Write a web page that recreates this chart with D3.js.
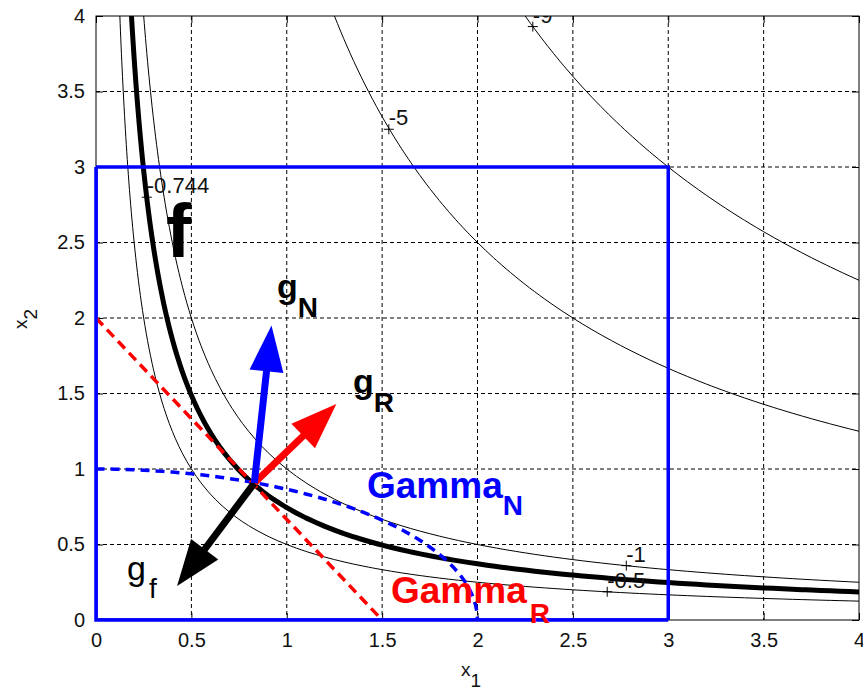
<!DOCTYPE html>
<html lang="en">
<head>
<meta charset="UTF-8">
<title>Contours of f with constraints Gamma_N and Gamma_R</title>
<script src="https://d3js.org/d3.v7.min.js"></script>
<style>
    body { margin: 0; background: #fff; }
    svg { display: block; font-family: "Liberation Sans", Arial, sans-serif; }
    .grid line { stroke: #000; stroke-width: 1; stroke-dasharray: 4,3; }
    .axis text { font-size: 20px; fill: #111; }
    .axis line { stroke: #000; }
    .axis path { display: none; }
    .contour { fill: none; stroke: #000; stroke-linejoin: round; }
    .clabel { font-size: 22px; fill: #111; }
</style>
</head>
<body>
<svg id="chart" width="863" height="691"></svg>
<script>
// axis ticks
const xTicks = [0, 0.5, 1, 1.5, 2, 2.5, 3, 3.5, 4];
const xTickLabels = ["0", "0.5", "1", "1.5", "2", "2.5", "3", "3.5", "4"];
const yTicks = [0, 0.5, 1, 1.5, 2, 2.5, 3, 3.5, 4];
const yTickLabels = ["0", "0.5", "1", "1.5", "2", "2.5", "3", "3.5", "4"];

// contour levels of f(x) = -x1*x2, the -0.744 one is drawn thick
const levels = [-9, -5, -1, -0.744, -0.5];
const thickLevel = -0.744;
// clabel positions (the "+" marks)
const labelLevels = [-9, -5, -1, -0.744, -0.5];
const labelX1 = [2.29, 1.535, 2.78, 0.266, 2.68];
const labelX2 = [3.93, 3.25, 0.36, 2.80, 0.187];

// feasible box 0..3 x 0..3
const boxCorners = [[0, 0], [3, 3]];
// Gamma_R: straight line
const gammaR = [[0, 2], [1.5, 0]];
// point x* and gradient arrow tips
const xStar = [0.83, 0.907];
const arrowNames = ["gf", "gR", "gN"];
const arrowTips = [[0.425, 0.225], [1.26, 1.43], [0.92, 1.95]];
const arrowColors = ["#000", "#ff0000", "#0000ff"];

function objective(x1, x2) { return -x1 * x2; }
function constraintN(x1, x2) { return x1 * x1 / 4 + x2 * x2; }

const svg = d3.select("#chart");
const pl = 96, pr = 859, pt = 16, pb = 620;
const x = d3.scaleLinear().domain([0, 4]).range([pl, pr]);
const y = d3.scaleLinear().domain([0, 4]).range([pb, pt]);

svg.append("defs").append("clipPath").attr("id", "plotclip")
    .append("rect").attr("x", pl).attr("y", pt)
    .attr("width", pr - pl).attr("height", pb - pt);

// grid
const grid = svg.append("g").attr("class", "grid");
grid.selectAll(".gx").data(xTicks.filter(d => d > 0 && d < 4)).enter().append("line")
    .attr("x1", d => x(d)).attr("x2", d => x(d)).attr("y1", pt).attr("y2", pb);
grid.selectAll(".gy").data(yTicks.filter(d => d > 0 && d < 4)).enter().append("line")
    .attr("y1", d => y(d)).attr("y2", d => y(d)).attr("x1", pl).attr("x2", pr);

// axes (ticks inward)
svg.append("g").attr("class", "axis").attr("transform", `translate(0,${pb})`)
    .call(d3.axisBottom(x).tickValues(xTicks).tickFormat((d, i) => xTickLabels[i])
        .tickSizeInner(-7).tickSizeOuter(0).tickPadding(13));
svg.append("g").attr("class", "axis").attr("transform", `translate(${pl},0)`)
    .call(d3.axisLeft(y).tickValues(yTicks).tickFormat((d, i) => yTickLabels[i])
        .tickSizeInner(-7).tickSizeOuter(0).tickPadding(11));
svg.append("g").attr("class", "axis").attr("transform", `translate(0,${pt})`)
    .call(d3.axisTop(x).tickValues(xTicks).tickFormat("").tickSizeInner(-7).tickSizeOuter(0));
svg.append("g").attr("class", "axis").attr("transform", `translate(${pr},0)`)
    .call(d3.axisRight(y).tickValues(yTicks).tickFormat("").tickSizeInner(-7).tickSizeOuter(0));
svg.append("rect").attr("x", pl).attr("y", pt)
    .attr("width", pr - pl).attr("height", pb - pt)
    .attr("fill", "none").attr("stroke", "#000").attr("stroke-width", 1);

// sample grid for the contour plot (a bit larger than the axes, clipped)
const g0 = -0.5, step = 0.05, n = 101;
const gridVals = d3.range(n).map(i => g0 + i * step);
function field(fn) {
    const v = new Float64Array(n * n);
    for (let j = 0; j < n; j++)
        for (let i = 0; i < n; i++) v[j * n + i] = fn(gridVals[i], gridVals[j]);
    return v;
}
const proj = d3.geoTransform({
    point: function(gx, gy) {
        this.stream.point(x(g0 + (gx - 0.5) * step), y(g0 + (gy - 0.5) * step));
    }
});
const path = d3.geoPath(proj);

const plot = svg.append("g").attr("clip-path", "url(#plotclip)");

const fContours = d3.contours().size([n, n]).thresholds(levels)(field(objective));
plot.selectAll(".contour").data(fContours).enter().append("path")
    .attr("class", "contour")
    .attr("d", path)
    .style("stroke-width", d => d.value === thickLevel ? "5px" : "1px");

// contour labels
const labels = plot.append("g");
labelLevels.forEach((lv, i) => {
    const px = x(labelX1[i]), py = y(labelX2[i]);
    labels.append("path").attr("d", `M${px - 5},${py}h10M${px},${py - 5}v10`)
        .attr("stroke", "#000").attr("stroke-width", 1);
    labels.append("text").attr("class", "clabel")
        .attr("x", px).attr("y", py - 4).text(String(lv));
});

// feasible box
plot.append("rect")
    .attr("x", x(boxCorners[0][0])).attr("y", y(boxCorners[1][1]))
    .attr("width", x(boxCorners[1][0]) - x(boxCorners[0][0]))
    .attr("height", y(boxCorners[0][1]) - y(boxCorners[1][1]))
    .attr("fill", "none").attr("stroke", "#0000ff").attr("stroke-width", 3.5);
// the clip cuts half of the box stroke on the axes, redraw those edges
svg.append("path")
    .attr("d", `M${x(0)},${y(3)}V${y(0)}H${x(3)}`)
    .attr("fill", "none").attr("stroke", "#0000ff").attr("stroke-width", 3.5);

// Gamma_N (level 1 of the constraint)
const nContour = d3.contours().size([n, n]).thresholds([1])(field(constraintN));
plot.selectAll(".gammaN").data(nContour).enter().append("path")
    .attr("d", path).attr("fill", "none")
    .attr("stroke", "#0000ff").attr("stroke-width", 3.5).attr("stroke-dasharray", "9,6");

// Gamma_R
plot.append("path")
    .attr("d", d3.line().x(d => x(d[0])).y(d => y(d[1]))(gammaR))
    .attr("fill", "none").attr("stroke", "#ff0000").attr("stroke-width", 3.5)
    .attr("stroke-dasharray", "10,6");

// gradient arrows
const headLen = 46, headHalf = 17;
arrowTips.forEach((tip, i) => {
    const p0 = [x(xStar[0]), y(xStar[1])];
    const p1 = [x(tip[0]), y(tip[1])];
    const dx = p1[0] - p0[0], dy = p1[1] - p0[1];
    const L = Math.hypot(dx, dy);
    const ux = dx / L, uy = dy / L;
    const bx = p1[0] - ux * headLen, by = p1[1] - uy * headLen;
    svg.append("line")
        .attr("x1", p0[0]).attr("y1", p0[1]).attr("x2", bx + ux * 2).attr("y2", by + uy * 2)
        .attr("stroke", arrowColors[i]).attr("stroke-width", 7);
    svg.append("path")
        .attr("d", `M${p1[0]},${p1[1]}L${bx - uy * headHalf},${by + ux * headHalf}L${bx + uy * headHalf},${by - ux * headHalf}Z`)
        .attr("fill", arrowColors[i]).attr("data-name", arrowNames[i]);
});

// text annotations
function label(xp, yp, main, sub, color, weight, size, subSize, subDx, subDy) {
    const t = svg.append("text").attr("x", xp).attr("y", yp)
        .attr("fill", color).attr("font-weight", weight).attr("font-size", size);
    t.append("tspan").text(main);
    if (sub) t.append("tspan").attr("dx", subDx).attr("dy", subDy)
        .attr("font-size", subSize).text(sub);
}
label(166, 257, "f", null, "#000", "bold", 76);
label(277, 298, "g", "N", "#000", "bold", 34, 28, 0, 19);
label(353, 393, "g", "R", "#000", "bold", 34, 28, 0, 19);
label(127, 580, "g", "f", "#000", "normal", 34, 28, 3, 18);
label(367, 498, "Gamma", "N", "#0000ff", "bold", 37, 28, 0, 17);
label(391, 603, "Gamma", "R", "#ff0000", "bold", 37, 28, 3, 20);

// axis labels
const xl = svg.append("text").attr("x", 471).attr("y", 676)
    .attr("text-anchor", "middle").attr("font-size", 19).attr("fill", "#111");
xl.append("tspan").text("x");
xl.append("tspan").attr("dy", 11).text("1");
const yl = svg.append("text").attr("transform", "translate(27,319) rotate(-90)")
    .attr("text-anchor", "middle").attr("font-size", 19).attr("fill", "#111");
yl.append("tspan").text("x");
yl.append("tspan").attr("dy", 10).text("2");
</script>
</body>
</html>
